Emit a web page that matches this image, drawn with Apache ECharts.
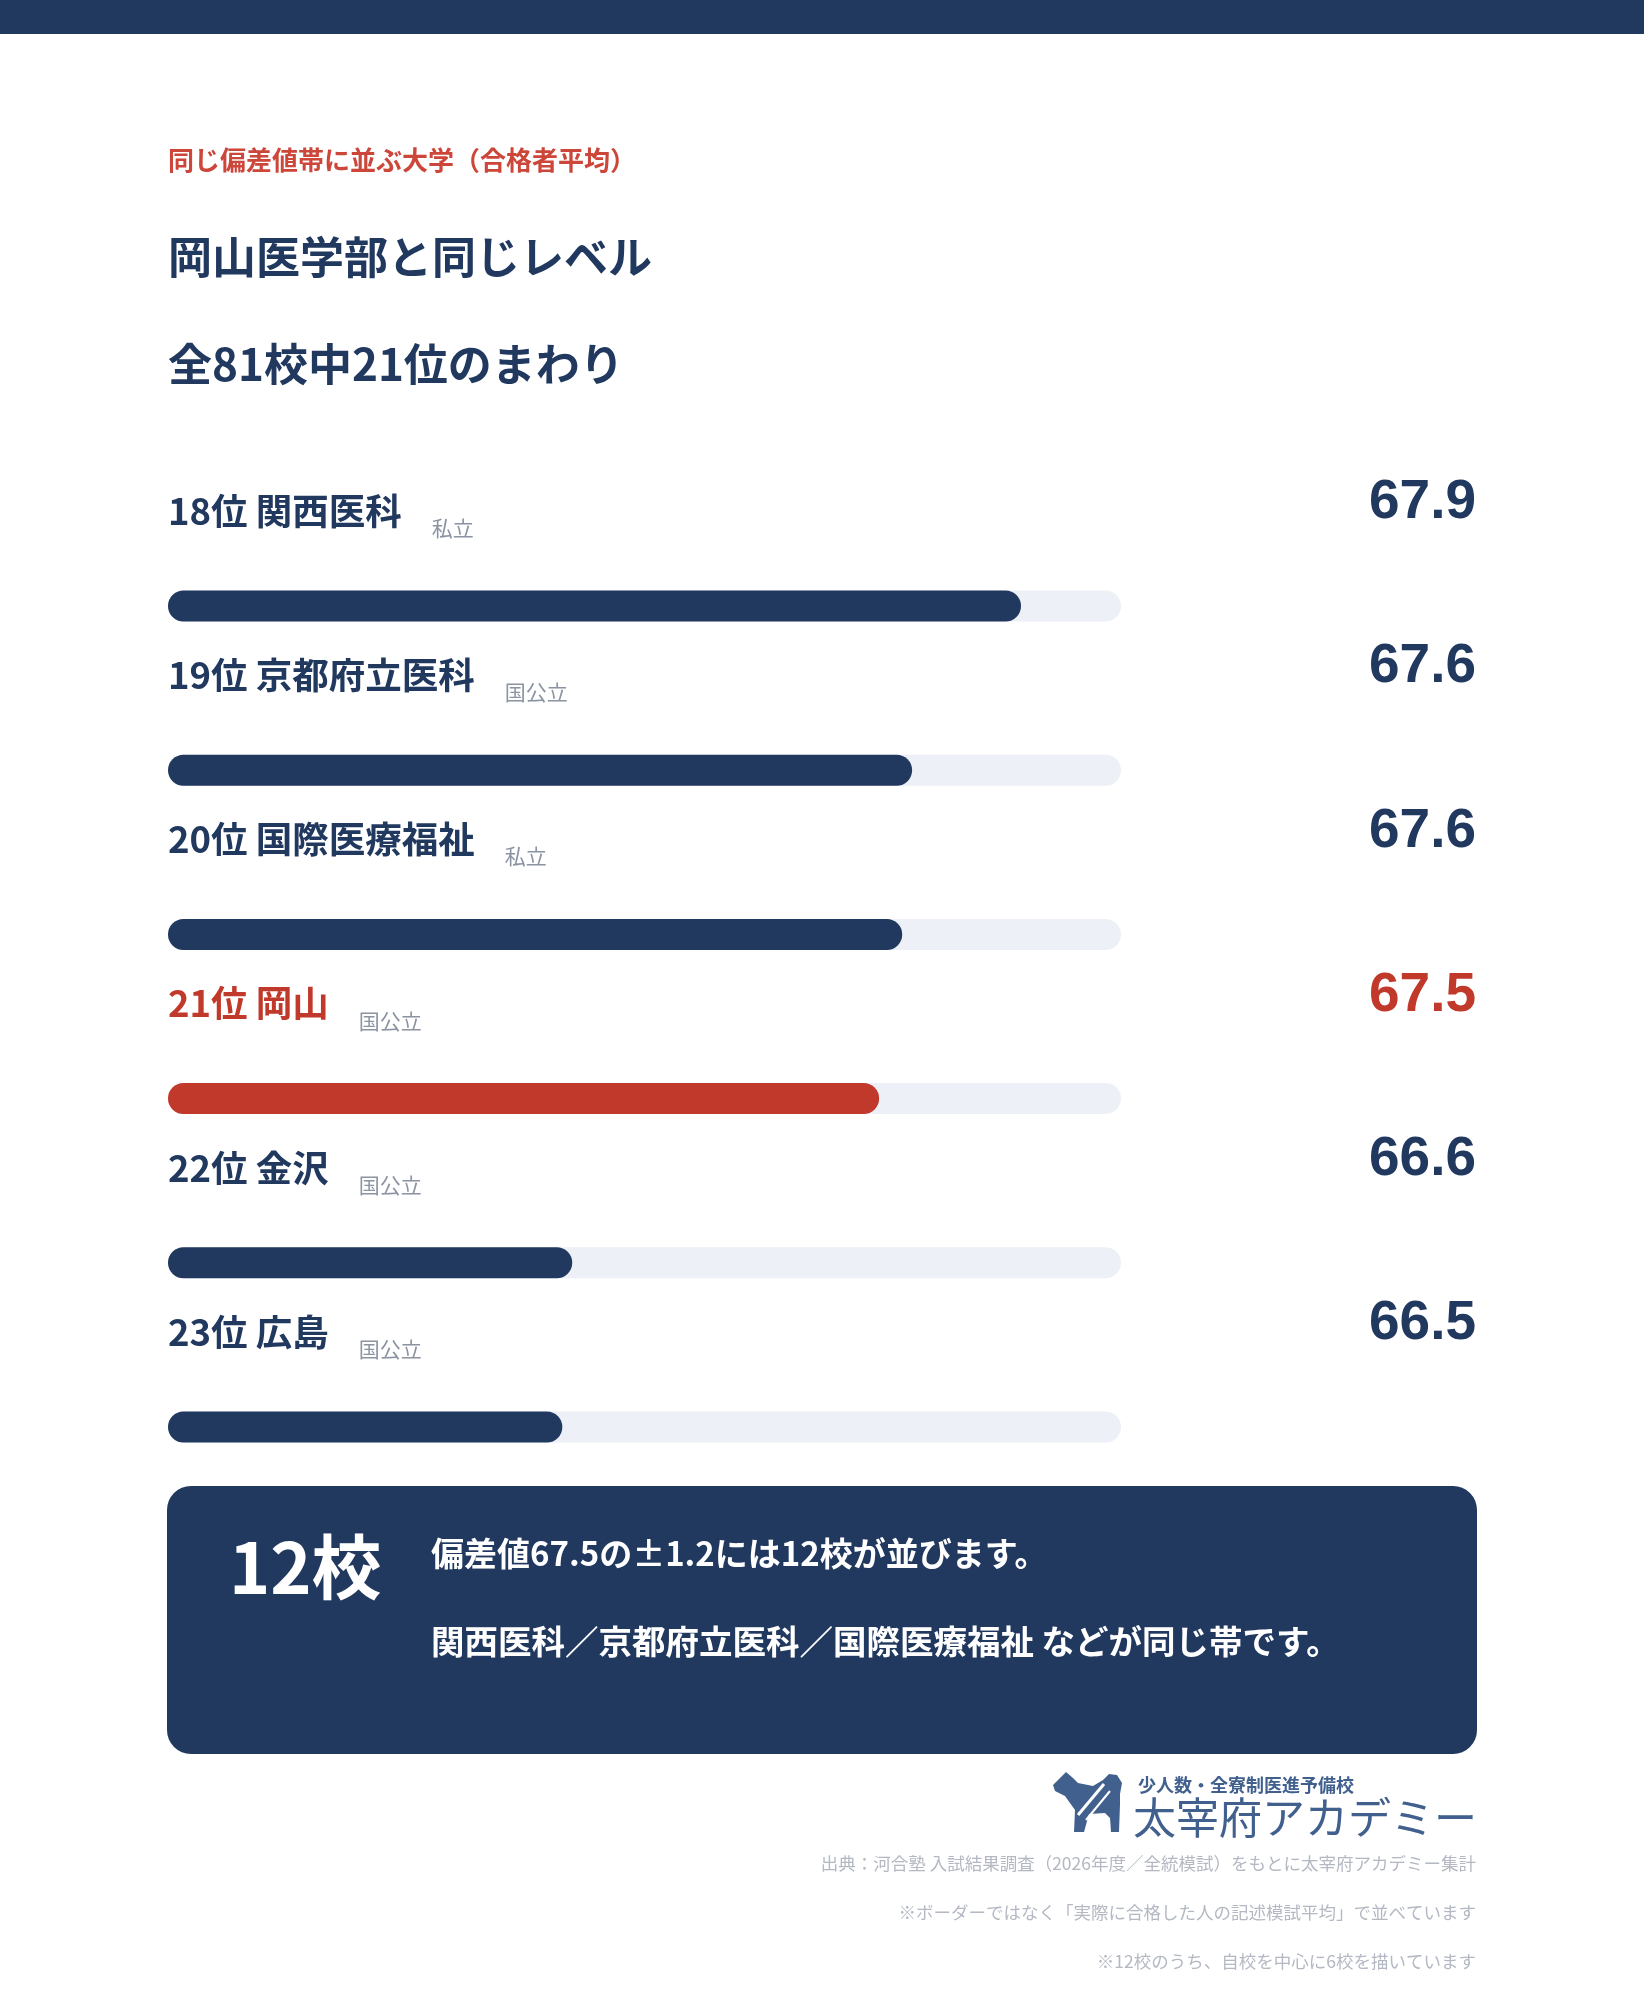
<!DOCTYPE html>
<html>
<head>
<meta charset="utf-8">
<script src="https://cdn.jsdelivr.net/npm/echarts@6/dist/echarts.min.js"></script>
<style>
html,body{margin:0;padding:0;background:#ffffff;}
#chart{width:1644px;height:2000px;}
</style>
</head>
<body>
<div id="chart"></div>
<script>
// ---- data ----
const ranks = ['18位', '19位', '20位', '21位', '22位', '23位'];
const schools = ['関西医科', '京都府立医科', '国際医療福祉', '岡山', '金沢', '広島'];
const types = ['私立', '国公立', '私立', '国公立', '国公立', '国公立'];
// scores (labels show one decimal; unrounded values)
const scores = [67.93, 67.60, 67.57, 67.50, 66.57, 66.54];
const highlightSchool = '岡山';

const kicker = '同じ偏差値帯に並ぶ大学（合格者平均）';
const titleLines = ['岡山医学部と同じレベル', '全81校中21位のまわり'];
const boxCount = '12校';
const boxLines = ['偏差値67.5の±1.2には12校が並びます。', '関西医科／京都府立医科／国際医療福祉 などが同じ帯です。'];
const logoSub = '少人数・全寮制医進予備校';
const logoMain = '太宰府アカデミー';
const notes = [
  '出典：河合塾 入試結果調査（2026年度／全統模試）をもとに太宰府アカデミー集計',
  '※ボーダーではなく「実際に合格した人の記述模試平均」で並べています',
  '※12校のうち、自校を中心に6校を描いています'
];

// ---- style ----
const NAVY = '#21385f';
const RED = '#c0392b';
const KICKER_RED = '#cc463a';
const TRACK = '#edf0f7';
const TAG_GRAY = '#8c94a3';
const NOTE_GRAY = '#b3b8c2';
const LOGO_BLUE = '#41608e';
const JP = "'Noto Sans CJK JP', 'Noto Sans', sans-serif";
const NUM = "'Liberation Sans', Arial, sans-serif";

const chart = echarts.init(document.getElementById('chart'), null, {renderer: 'canvas'});

const dogPts = [[0,13],[13,0],[20,6],[25,11],[40,14],[50,8],[56,2],[64,3],[69,11],[67,22],[67,32],[66,60],[58,60],[57,46],[52,41],[36,42],[31,60],[21,60],[22,38],[12,24],[2,19]]
  .map(p => [1053 + p[0], 1772 + p[1]]);

const option = {
  animation: false,
  backgroundColor: '#ffffff',
  textStyle: {fontFamily: JP},
  grid: {left: 168, right: 523, top: 524, bottom: 491, containLabel: false},
  xAxis: {type: 'value', min: 65.345, max: 68.233, show: false},
  yAxis: [
    {
      type: 'category', inverse: true, data: schools, position: 'left',
      axisLine: {show: false}, axisTick: {show: false},
      axisLabel: {
        interval: 0, margin: 0, align: 'left', verticalAlign: 'middle',
        padding: [0, 0, 190, 0],
        formatter: function (v) {
          const i = schools.indexOf(v);
          const key = v === highlightSchool ? 'nr' : 'n';
          return '{' + key + '|' + ranks[i] + ' ' + schools[i] + '}{t|' + types[i] + '}';
        },
        rich: {
          n: {fontSize: 36.5, fontWeight: 'bold', color: NAVY, lineHeight: 44, fontFamily: JP},
          nr: {fontSize: 36.5, fontWeight: 'bold', color: RED, lineHeight: 44, fontFamily: JP},
          t: {fontSize: 21, color: TAG_GRAY, lineHeight: 22, padding: [34, 0, 0, 30], fontFamily: JP}
        }
      }
    },
    {
      type: 'category', inverse: true, data: schools, position: 'right',
      axisLine: {show: false}, axisTick: {show: false},
      axisLabel: {
        interval: 0, margin: 355, align: 'right', verticalAlign: 'middle',
        padding: [0, 0, 206, 0],
        formatter: function (v) {
          const i = schools.indexOf(v);
          const key = v === highlightSchool ? 'vr' : 'v';
          return '{' + key + '|' + scores[i].toFixed(1) + '}';
        },
        rich: {
          v: {fontSize: 55, fontWeight: 'bold', color: NAVY, fontFamily: NUM},
          vr: {fontSize: 55, fontWeight: 'bold', color: RED, fontFamily: NUM}
        }
      }
    }
  ],
  series: [{
    type: 'bar',
    yAxisIndex: 0,
    barWidth: 31,
    showBackground: true,
    backgroundStyle: {color: TRACK, borderRadius: 16},
    itemStyle: {borderRadius: 16, color: NAVY},
    data: scores.map((s, i) => ({
      value: s,
      itemStyle: {color: schools[i] === highlightSchool ? RED : NAVY}
    }))
  }],
  graphic: [
    {type: 'rect', shape: {x: 0, y: 0, width: 1644, height: 34}, style: {fill: NAVY}},
    {type: 'text', x: 168, y: 160, style: {text: kicker, fontSize: 26, fontWeight: 'bold', fill: KICKER_RED, fontFamily: JP, align: 'left', verticalAlign: 'middle'}},
    {type: 'text', x: 168, y: 257, style: {text: titleLines[0], fontSize: 44, fontWeight: 'bold', fill: NAVY, fontFamily: JP, align: 'left', verticalAlign: 'middle'}},
    {type: 'text', x: 168, y: 364, style: {text: titleLines[1], fontSize: 44, fontWeight: 'bold', fill: NAVY, fontFamily: JP, align: 'left', verticalAlign: 'middle'}},
    {type: 'rect', shape: {x: 167, y: 1486, width: 1310, height: 268, r: 24}, style: {fill: NAVY}},
    {type: 'text', x: 229, y: 1567, style: {text: boxCount, fontSize: 70, fontWeight: 'bold', fill: '#ffffff', fontFamily: JP, align: 'left', verticalAlign: 'middle'}},
    {type: 'text', x: 431, y: 1553, style: {text: boxLines[0], fontSize: 33, fontWeight: 'bold', fill: '#ffffff', fontFamily: JP, align: 'left', verticalAlign: 'middle'}},
    {type: 'text', x: 431, y: 1641, style: {text: boxLines[1], fontSize: 33.5, fontWeight: 'bold', fill: '#ffffff', fontFamily: JP, align: 'left', verticalAlign: 'middle'}},
    {type: 'polygon', shape: {points: dogPts}, style: {fill: LOGO_BLUE}},
    {type: 'polyline', shape: {points: [[1078, 1815], [1104, 1784]]}, style: {stroke: '#ffffff', lineWidth: 3, fill: null}},
    {type: 'polyline', shape: {points: [[1086, 1820], [1110, 1791]]}, style: {stroke: '#ffffff', lineWidth: 2, fill: null}},
    {type: 'text', x: 1138, y: 1785, style: {text: logoSub, fontSize: 18, fontWeight: 'bold', fill: LOGO_BLUE, fontFamily: JP, align: 'left', verticalAlign: 'middle'}},
    {type: 'text', x: 1133, y: 1818, style: {text: logoMain, fontSize: 43, fill: LOGO_BLUE, fontFamily: JP, align: 'left', verticalAlign: 'middle'}},
    {type: 'text', x: 1476, y: 1863, style: {text: notes[0], fontSize: 17.5, fill: NOTE_GRAY, fontFamily: JP, align: 'right', verticalAlign: 'middle'}},
    {type: 'text', x: 1476, y: 1912, style: {text: notes[1], fontSize: 17.5, fill: NOTE_GRAY, fontFamily: JP, align: 'right', verticalAlign: 'middle'}},
    {type: 'text', x: 1476, y: 1961, style: {text: notes[2], fontSize: 17.5, fill: NOTE_GRAY, fontFamily: JP, align: 'right', verticalAlign: 'middle'}}
  ]
};
chart.setOption(option);
</script>
</body>
</html>
